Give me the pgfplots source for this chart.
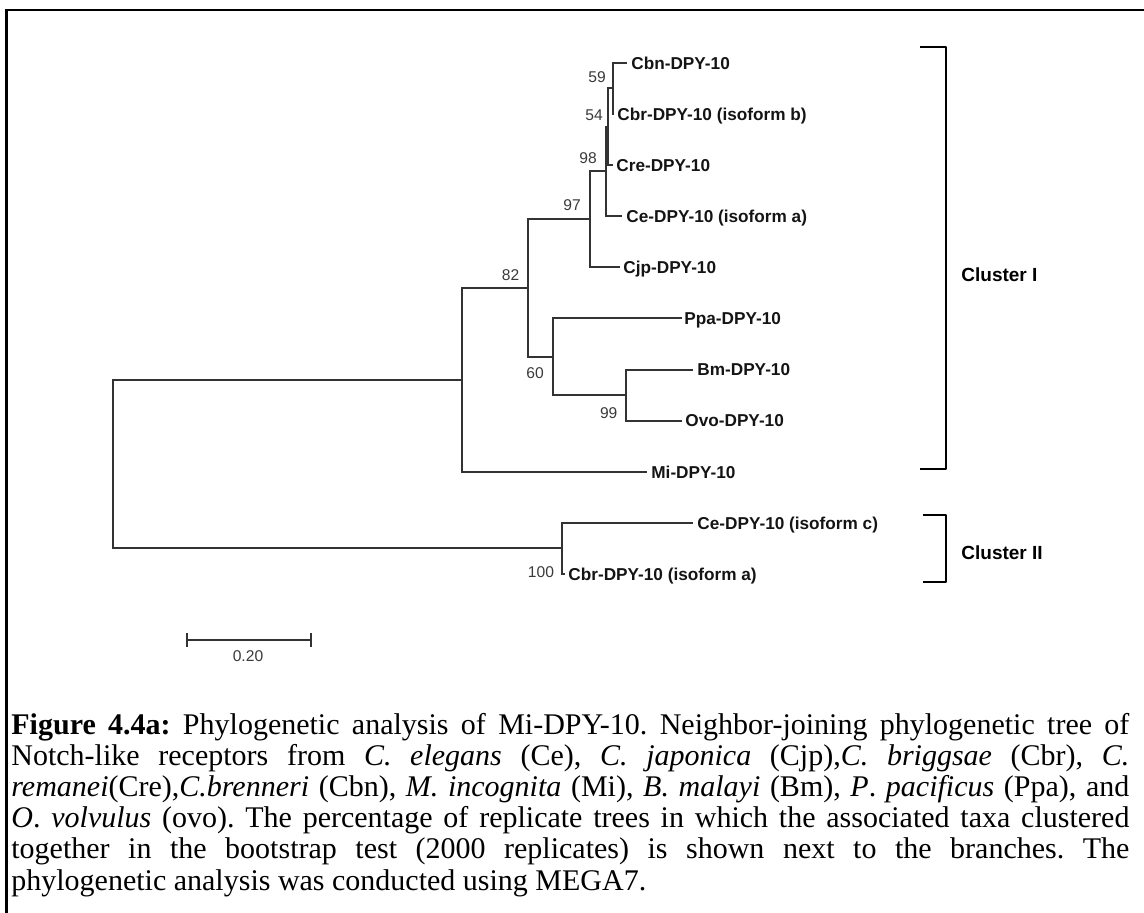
\documentclass[border=0pt]{standalone}
\usepackage{fontspec}
\setmainfont{Liberation Serif}
\newfontfamily\arial{Liberation Sans}
\usepackage{pgfplots}
\pgfplotsset{compat=1.18}
\definecolor{branch}{HTML}{333333}
\definecolor{boot}{HTML}{3A3A3A}
\begin{document}
\begin{tikzpicture}
\useasboundingbox (0,0) rectangle (572pt,456.5pt);
\begin{axis}[at={(0,0)},anchor=south west,scale only axis,
  width=572pt,height=456.5pt,xmin=0,xmax=1144,ymin=0,ymax=913,
  y dir=reverse,axis lines=none,clip=false,
  br/.style={color=branch,line width=1pt,mark=none,solid,line join=miter},
  bk/.style={color=black,line width=1.3pt,mark=none,solid,line join=round}]
% --- tree branches (pixel coordinates of the figure) ---
\addplot[br] coordinates {(462,380) (113,380) (113,548.5) (562,548.5)};      % root
\addplot[br] coordinates {(528,288.2) (462,288.2) (462,471.8) (647,471.8)};  % cluster I
\addplot[br] coordinates {(590,219.5) (528,219.5) (528,356.8) (553,356.8)};  % 82
\addplot[br] coordinates {(606,171.5) (590,171.5) (590,267.4) (620,267.4)};  % 97
\addplot[br] coordinates {(608,126.8) (606,126.8) (606,216.3) (622,216.3)};  % 98
\addplot[br] coordinates {(613,88.5) (608,88.5) (608,165.2) (613,165.2)};    % 54
\addplot[br] coordinates {(627,63) (613,63) (613,114.1) (614,114.1)};        % 59
\addplot[br] coordinates {(682,318.5) (553,318.5) (553,395.2) (626,395.2)};  % 60
\addplot[br] coordinates {(693,369.6) (626,369.6) (626,420.7) (682,420.7)};  % 99
\addplot[br] coordinates {(693,522.9) (562,522.9) (562,574) (565,574)};      % 100
% scale bar
\addplot[br,line width=1.2pt] coordinates {(187,640) (311,640)};
\addplot[br,line width=1.2pt] coordinates {(187,633) (187,647)};
\addplot[br,line width=1.2pt] coordinates {(311,633) (311,647)};
% brackets
\addplot[bk] coordinates {(920,47) (946,47) (946,469) (920,469)};
\addplot[bk] coordinates {(923,515) (946,515) (946,582) (923,582)};
% --- taxon labels ---
\begin{scope}[every node/.style={anchor=base west,inner sep=0pt,font=\arial\bfseries\fontsize{8.6}{10}\selectfont,text=black!92}]
\node at (axis cs:631,69.3)  {Cbn-DPY-10};
\node at (axis cs:617,120.4) {Cbr-DPY-10 (isoform b)};
\node at (axis cs:616,171.5) {Cre-DPY-10};
\node at (axis cs:626,222.6) {Ce-DPY-10 (isoform a)};
\node at (axis cs:623,273.7) {Cjp-DPY-10};
\node at (axis cs:684,324.8) {Ppa-DPY-10};
\node at (axis cs:697,375.9) {Bm-DPY-10};
\node at (axis cs:685,427.0) {Ovo-DPY-10};
\node at (axis cs:651,478.1) {Mi-DPY-10};
\node at (axis cs:697,529.2) {Ce-DPY-10 (isoform c)};
\node at (axis cs:568,580.3) {Cbr-DPY-10 (isoform a)};
\end{scope}
% --- bootstrap values ---
\begin{scope}[every node/.style={anchor=center,inner sep=0pt,font=\arial\fontsize{7.8}{9}\selectfont,text=boot}]
\node at (axis cs:597,77)  {59};
\node at (axis cs:594,115) {54};
\node at (axis cs:588,158) {98};
\node at (axis cs:572,205) {97};
\node at (axis cs:510.5,275) {82};
\node at (axis cs:535,373) {60};
\node at (axis cs:608.7,413) {99};
\node at (axis cs:541,572) {100};
\node at (axis cs:248,656) {0.20};
\end{scope}
% cluster labels
\node[anchor=base west,inner sep=0pt,font=\arial\bfseries\fontsize{9.5}{11}\selectfont] at (axis cs:961,281.5) {Cluster I};
\node[anchor=base west,inner sep=0pt,font=\arial\bfseries\fontsize{9.5}{11}\selectfont] at (axis cs:961,559.5) {Cluster II};
% frame
\draw[black,line width=1.4pt] (axis cs:6.5,913) -- (axis cs:6.5,10) -- (axis cs:1144,10);
% caption
\node[anchor=base west,inner sep=0pt] at (axis cs:11,734) {\parbox[t]{559pt}{\fontsize{15}{15.6}\selectfont\frenchspacing
\hyphenpenalty=10000 \exhyphenpenalty=10000 \tolerance=9999 \emergencystretch=2em
\textbf{Figure 4.4a:} Phylogenetic analysis of Mi-DPY-10. Neighbor-joining phylogenetic tree of\linebreak
Notch-like receptors from \textit{C. elegans} (Ce), \textit{C. japonica} (Cjp),\textit{C. briggsae} (Cbr), \textit{C.}\linebreak
\textit{remanei}(Cre),\textit{C.brenneri} (Cbn), \textit{M. incognita} (Mi), \textit{B. malayi} (Bm), \textit{P}. \textit{pacificus} (Ppa), and\linebreak
\textit{O}. \textit{volvulus} (ovo). The percentage of replicate trees in which the associated taxa clustered\linebreak
together in the bootstrap test (2000 replicates) is shown next to the branches. The\linebreak
phylogenetic analysis was conducted using MEGA7.}};
\end{axis}
\end{tikzpicture}
\end{document}
